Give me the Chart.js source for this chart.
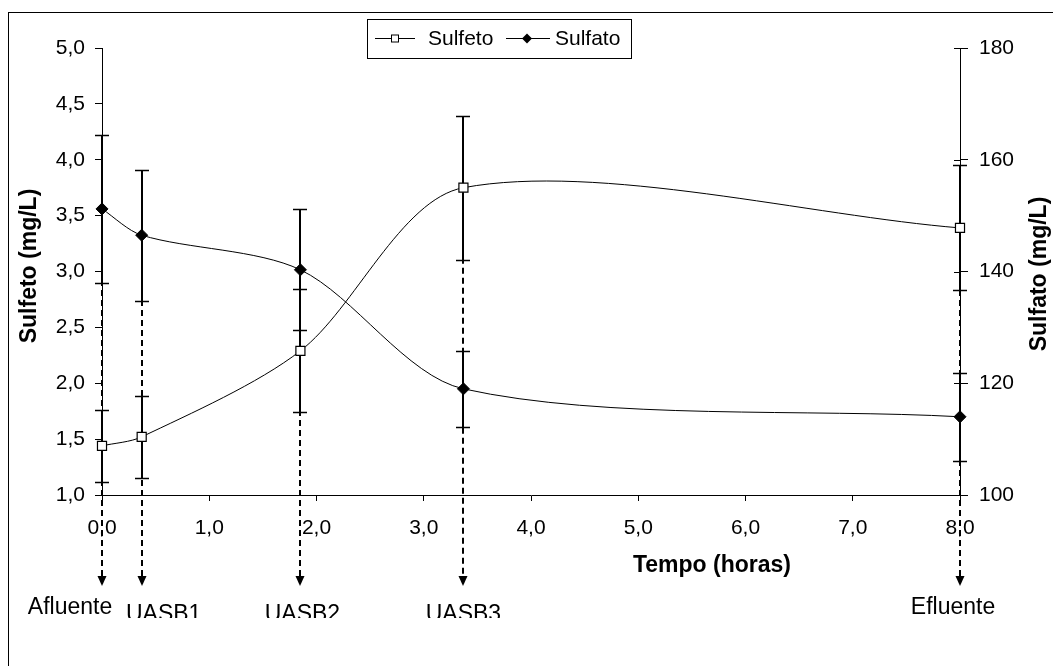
<!DOCTYPE html>
<html><head><meta charset="utf-8">
<script src="https://cdn.jsdelivr.net/npm/chart.js@4.4.1/dist/chart.umd.min.js"></script>
<style>html,body{margin:0;padding:0;background:#fff;} canvas{display:block;}</style>
</head><body>
<canvas id="c" width="1053" height="666"></canvas>
<script>
// ---- data ----
const times = [0, 0.37, 1.85, 3.37, 8.0];
const sulfeto = [1.44, 1.52, 2.29, 3.75, 3.39];
const sulfetoErr = [0.325, 0.365, 0.55, 0.645, 0.56];
const sulfato = [151.2, 146.5, 140.3, 119.0, 114.0];
const sulfatoErr = [13.2, 11.75, 10.85, 6.85, 7.9];
const stageLabels = ['Afluente', 'UASB1', 'UASB2', 'UASB3', 'Efluente'];
const arrowStart = [3.55, 3.55, 3.55, 3.75, 3.55]; // Sulfeto-axis units
const seriesNames = ['Sulfeto', 'Sulfato'];
const xTitle = 'Tempo (horas)';
const yTitle = 'Sulfeto (mg/L)';
const y1Title = 'Sulfato (mg/L)';

// ---- style ----
const FONT = '"Liberation Sans", Arial, Helvetica, sans-serif';
const labelStyle = [
  {dx: -32, base: 614, clip: false},
  {dx: 22, base: 621, clip: true},
  {dx: 2, base: 621, clip: true},
  {dx: 0, base: 621, clip: true},
  {dx: -7, base: 614, clip: false}
];
const comma = v => Number(v).toFixed(1).replace('.', ',');

function line(ctx, x1, y1, x2, y2) { ctx.beginPath(); ctx.moveTo(x1, y1); ctx.lineTo(x2, y2); ctx.stroke(); }

const extras = {
  id: 'extras',
  beforeDraw(chart) {
    const ctx = chart.ctx;
    ctx.save();
    ctx.fillStyle = '#fff';
    ctx.fillRect(0, 0, chart.width, chart.height);
    ctx.strokeStyle = '#000'; ctx.lineWidth = 1;
    ctx.strokeRect(8.5, 12.5, 1200, 800);
    ctx.restore();
  },
  beforeDatasetsDraw(chart) {
    const {ctx, chartArea, scales: {x, y, y1}} = chart;
    ctx.save();
    ctx.strokeStyle = '#000'; ctx.fillStyle = '#000';
    // inner part of right-axis ticks
    ctx.lineWidth = 1;
    y1.ticks.forEach(t => { const py = Math.round(y1.getPixelForValue(t.value)) + 0.5; line(ctx, chartArea.right - 6, py, chartArea.right, py); });
    // dashed arrows
    const arrowEnd = chartArea.bottom + 82;
    ctx.lineWidth = 2; ctx.setLineDash([6, 4]);
    times.forEach((t, i) => {
      const px = Math.round(x.getPixelForValue(t));
      line(ctx, px, y.getPixelForValue(arrowStart[i]), px, arrowEnd);
    });
    ctx.setLineDash([]);
    times.forEach(t => {
      const px = Math.round(x.getPixelForValue(t));
      ctx.beginPath(); ctx.moveTo(px - 4.5, arrowEnd - 1); ctx.lineTo(px + 4.5, arrowEnd - 1); ctx.lineTo(px, arrowEnd + 9); ctx.closePath(); ctx.fill();
    });
    // error bars
    const drawErr = (scale, vals, errs) => {
      vals.forEach((v, i) => {
        const px = Math.round(x.getPixelForValue(times[i]));
        const top = Math.round(scale.getPixelForValue(v + errs[i])) + 0.5;
        const bot = Math.round(scale.getPixelForValue(v - errs[i])) + 0.5;
        ctx.lineWidth = 2; line(ctx, px, top, px, bot);
        ctx.lineWidth = 1.5; line(ctx, px - 7, top, px + 7, top); line(ctx, px - 7, bot, px + 7, bot);
      });
    };
    drawErr(y, sulfeto, sulfetoErr);
    drawErr(y1, sulfato, sulfatoErr);
    ctx.restore();
  },
  afterDraw(chart) {
    const {ctx, chartArea, scales: {x}} = chart;
    ctx.save();
    ctx.fillStyle = '#000'; ctx.strokeStyle = '#000';
    // titles
    ctx.font = 'bold 23px ' + FONT;
    ctx.textAlign = 'center'; ctx.textBaseline = 'alphabetic';
    ctx.fillText(xTitle, 712, 572);
    ctx.textBaseline = 'middle';
    ctx.save(); ctx.translate(30, 266); ctx.rotate(-Math.PI / 2); ctx.fillText(yTitle, 0, 0); ctx.restore();
    ctx.save(); ctx.translate(1040, 274); ctx.rotate(-Math.PI / 2); ctx.fillText(y1Title, 0, 0); ctx.restore();
    // stage labels
    ctx.font = '23px ' + FONT;
    ctx.textAlign = 'center'; ctx.textBaseline = 'alphabetic';
    times.forEach((t, i) => {
      const s = labelStyle[i];
      const px = x.getPixelForValue(t) + s.dx;
      ctx.save();
      if (s.clip) { ctx.beginPath(); ctx.rect(0, 0, chart.width, 618); ctx.clip(); }
      ctx.fillText(stageLabels[i], px, s.base);
      ctx.restore();
    });
    // legend
    ctx.lineWidth = 1;
    ctx.fillStyle = '#fff';
    ctx.fillRect(367, 19, 264, 39);
    ctx.strokeRect(367.5, 19.5, 264, 39);
    const ly = 38.5;
    ctx.lineWidth = 1;
    line(ctx, 375, ly, 415, ly);
    ctx.fillStyle = '#fff'; ctx.fillRect(391.5, ly - 3.5, 7, 7); ctx.strokeRect(391.5, ly - 3.5, 7, 7);
    line(ctx, 506, ly, 550, ly);
    ctx.fillStyle = '#000';
    ctx.beginPath(); ctx.moveTo(527, ly - 5); ctx.lineTo(532, ly); ctx.lineTo(527, ly + 5); ctx.lineTo(522, ly); ctx.closePath(); ctx.fill();
    ctx.font = '21px ' + FONT; ctx.textAlign = 'left'; ctx.textBaseline = 'middle';
    ctx.fillText(seriesNames[0], 428, 39);
    ctx.fillText(seriesNames[1], 555, 39);
    ctx.restore();
  }
};

const tickFont = {family: FONT, size: 21};
new Chart(document.getElementById('c'), {
  type: 'line',
  data: {
    datasets: [
      {label: seriesNames[0], data: times.map((t, i) => ({x: t, y: sulfeto[i]})), yAxisID: 'y',
       borderColor: '#000', borderWidth: 1, tension: 0.3, pointStyle: 'rect', pointRadius: 6.4,
       pointBackgroundColor: '#fff', pointBorderColor: '#000', pointBorderWidth: 1.2, clip: false},
      {label: seriesNames[1], data: times.map((t, i) => ({x: t, y: sulfato[i]})), yAxisID: 'y1',
       borderColor: '#000', borderWidth: 1, tension: 0.3, pointStyle: 'rectRot', pointRadius: 6,
       pointBackgroundColor: '#000', pointBorderColor: '#000', pointBorderWidth: 1, clip: false}
    ]
  },
  options: {
    responsive: false, animation: false, devicePixelRatio: 1,
    layout: {padding: {top: 48, left: 0, right: 0, bottom: 0}},
    plugins: {legend: {display: false}, tooltip: {enabled: false}},
    scales: {
      x: {type: 'linear', min: 0, max: 8,
          afterFit: s => { s.height = 171; },
          ticks: {stepSize: 1, color: '#000', font: tickFont, padding: 15, maxRotation: 0, callback: comma},
          grid: {drawOnChartArea: false, drawTicks: true, tickLength: 6, color: '#000'},
          border: {display: true, color: '#000', width: 1}},
      y: {position: 'left', min: 1, max: 5,
          afterFit: s => { s.width = 102; },
          ticks: {stepSize: 0.5, color: '#000', font: tickFont, padding: 10, callback: comma},
          grid: {drawOnChartArea: false, drawTicks: true, tickLength: 7, color: '#000'},
          border: {display: true, color: '#000', width: 1}},
      y1: {position: 'right', min: 100, max: 180,
          afterFit: s => { s.width = 93; },
          ticks: {stepSize: 20, color: '#000', font: tickFont, padding: 11},
          grid: {drawOnChartArea: false, drawTicks: true, tickLength: 8, color: '#000'},
          border: {display: true, color: '#000', width: 1}}
    }
  },
  plugins: [extras]
});
</script>
</body></html>
